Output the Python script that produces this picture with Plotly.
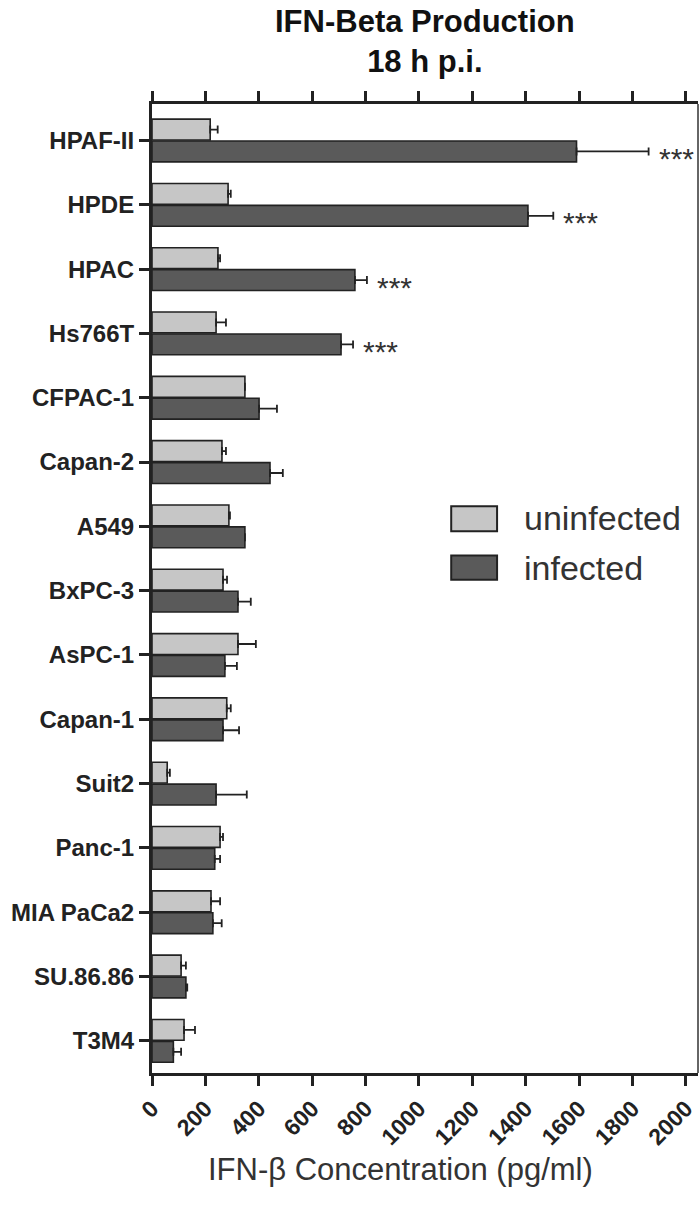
import plotly.graph_objects as go

# cell lines, top to bottom
lines = ["HPAF-II", "HPDE", "HPAC", "Hs766T", "CFPAC-1", "Capan-2", "A549",
         "BxPC-3", "AsPC-1", "Capan-1", "Suit2", "Panc-1", "MIA PaCa2",
         "SU.86.86", "T3M4"]

uninfected = [218, 285, 247, 240, 348, 262, 288, 266, 322, 280, 57, 255, 221, 109, 120]
uninfected_err = [28, 10, 8, 37, 0, 15, 4, 15, 67, 15, 10, 11, 34, 18, 41]
infected = [1590, 1408, 760, 708, 401, 442, 348, 322, 273, 266, 240, 235, 228, 127, 80]
infected_err = [270, 95, 45, 45, 67, 48, 0, 48, 45, 60, 115, 20, 33, 5, 29]
significant = ["HPAF-II", "HPDE", "HPAC", "Hs766T"]

x_ticks = list(range(0, 2001, 200))

FONT = "Liberation Sans, Arial, Helvetica, sans-serif"
INK = "#222222"
LIGHT = "#c6c6c6"
DARK = "#5a5a5a"

fig = go.Figure()
for name, vals, errs, col in [("uninfected", uninfected, uninfected_err, LIGHT),
                              ("infected", infected, infected_err, DARK)]:
    fig.add_bar(
        y=lines, x=vals, orientation="h", name=name, showlegend=False,
        marker=dict(color=col, line=dict(color=INK, width=1.6)),
        error_x=dict(type="data", array=errs, arrayminus=[0] * len(errs),
                     symmetric=False, color=INK, thickness=1.8, width=4),
    )

# significance stars next to the infected bars
for cl, v, e in zip(lines, infected, infected_err):
    if cl in significant:
        fig.add_annotation(
            x=v + e, y=cl, text="***", showarrow=False, xanchor="left",
            xshift=8, yshift=-18, font=dict(family=FONT, size=30, color="#333333"),
        )

# hand-drawn legend (large swatches like the original)
for y0, y1, col, label, ty in [(0.585, 0.559, LIGHT, "uninfected", 0.573),
                              (0.534, 0.509, DARK, "infected", 0.521)]:
    fig.add_shape(type="rect", xref="paper", yref="paper", x0=0.548, x1=0.632,
                  y0=y1, y1=y0, fillcolor=col, line=dict(color=INK, width=2))
    fig.add_annotation(x=0.678, y=ty, xref="paper", yref="paper", text=label,
                       showarrow=False, xanchor="left", yanchor="middle",
                       font=dict(family=FONT, size=34, color="#333333"))

# thin right border of the frame
fig.add_shape(type="line", xref="paper", yref="paper", x0=1, x1=1, y0=0, y1=1,
              line=dict(color="#333333", width=1.5))

# title, two centred lines above the top axis
fig.add_annotation(x=0.5, y=1.065, xref="paper", yref="paper",
                   text="<b>IFN-Beta Production<br>18 h p.i.</b>", showarrow=False,
                   xanchor="center", yanchor="middle",
                   font=dict(family=FONT, size=31, color="#111111"))

fig.add_annotation(x=0.456, y=-0.1, xref="paper", yref="paper",
                   text="IFN-β Concentration (pg/ml)", showarrow=False,
                   yanchor="middle", font=dict(family=FONT, size=31, color="#333333"))

fig.update_layout(
    width=700, height=1205,
    margin=dict(l=152, r=2, t=104, b=132),
    paper_bgcolor="white", plot_bgcolor="white",
    barmode="group", bargap=0.318, bargroupgap=0.05,
    font=dict(family=FONT, color=INK),
    xaxis=dict(range=[0, 2045], tickvals=x_ticks, ticks="outside", ticklen=10,
               tickwidth=2.5, tickcolor=INK, showline=True, linewidth=3,
               linecolor=INK, mirror="allticks", showgrid=False, zeroline=False,
               tickangle=-45,
               tickfont=dict(family=FONT, size=23, color=INK, weight="bold")),
    yaxis=dict(type="category", categoryorder="array", categoryarray=lines,
               autorange="reversed", ticks="outside", ticklen=10, tickwidth=2.5,
               tickcolor=INK, showline=True, linewidth=3, linecolor=INK,
               showgrid=False, zeroline=False,
               tickfont=dict(family=FONT, size=24, color=INK, weight="bold")),
)

fig.write_html("out.html", config={"displayModeBar": False},
               post_script="document.body.style.margin='0';")
